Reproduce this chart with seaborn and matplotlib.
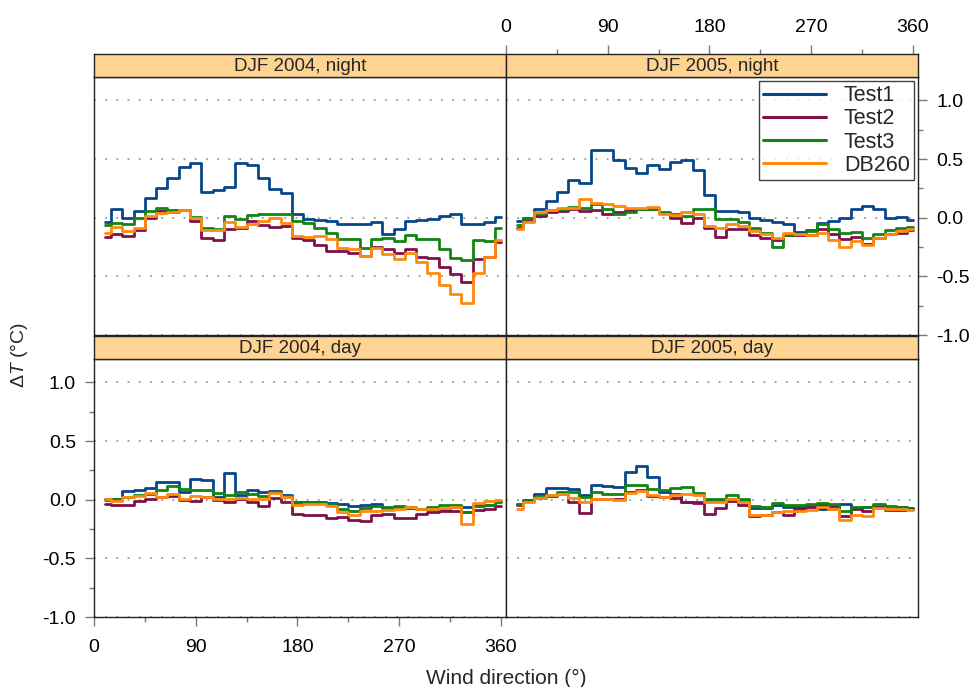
import matplotlib
matplotlib.use("Agg")
import numpy as np
import pandas as pd
import matplotlib.pyplot as plt
from matplotlib.lines import Line2D
import seaborn as sns

# ---- data: temperature difference per 10-degree wind direction sector ----
directions = list(range(10, 361, 10))
series_names = ["Test1", "Test2", "Test3", "DB260"]
series_colors = ["#08468C", "#80104A", "#128412", "#FF8A10"]
panel_titles = ["DJF 2004, night", "DJF 2005, night", "DJF 2004, day", "DJF 2005, day"]

x_ticks = [0, 90, 180, 270, 360]
x_minor = [45, 135, 225, 315]
y_ticks = [-1.0, -0.5, 0.0, 0.5, 1.0]
y_tick_labels = ["-1.0", "-0.5", "0.0", "0.5", "1.0"]
y_minor = [-0.75, -0.25, 0.25, 0.75]

n04_test1 = [-0.034, 0.077, 0.0, 0.057, 0.165, 0.256, 0.335, 0.43, 0.463, 0.22, 0.236, 0.26,
             0.463, 0.45, 0.335, 0.247, 0.207, 0.034, -0.01, -0.017, -0.028, -0.05, -0.057, -0.05,
             -0.037, -0.142, -0.1, -0.028, -0.017, -0.014, 0.014, 0.028, -0.05, -0.05, -0.037, 0.006]
n04_test2 = [-0.165, -0.142, -0.156, -0.102, -0.006, 0.057, 0.048, 0.065, -0.028, -0.17, -0.193, -0.099,
             -0.091, -0.028, -0.065, -0.077, -0.071, -0.17, -0.19, -0.236, -0.284, -0.284, -0.298, -0.327,
             -0.25, -0.27, -0.304, -0.264, -0.335, -0.347, -0.42, -0.483, -0.545, -0.35, -0.335, -0.205]
n04_test3 = [-0.063, -0.048, -0.05, -0.006, 0.057, 0.08, 0.068, 0.068, 0.006, -0.085, -0.1, 0.014,
             -0.014, 0.023, 0.028, 0.028, 0.034, -0.028, -0.045, -0.085, -0.128, -0.185, -0.185, -0.26,
             -0.18, -0.17, -0.2, -0.148, -0.185, -0.185, -0.27, -0.34, -0.358, -0.19, -0.2, -0.09]
n04_db260 = [-0.128, -0.08, -0.114, -0.085, 0.014, 0.043, 0.048, 0.063, -0.006, -0.108, -0.102, -0.034,
             -0.08, -0.057, -0.028, -0.006, -0.043, -0.156, -0.162, -0.156, -0.179, -0.256, -0.27, -0.327,
             -0.26, -0.31, -0.355, -0.298, -0.375, -0.469, -0.574, -0.653, -0.724, -0.469, -0.335, -0.193]

n05_test1 = [-0.028, 0.0, 0.071, 0.142, 0.222, 0.324, 0.295, 0.574, 0.574, 0.494, 0.426, 0.381,
             0.446, 0.418, 0.474, 0.491, 0.406, 0.193, 0.057, 0.057, 0.048, 0.0, -0.023, -0.037,
             -0.057, -0.119, -0.105, -0.048, -0.028, 0.0, 0.077, 0.099, 0.071, 0.0, 0.009, -0.017]
n05_test2 = [-0.085, -0.028, 0.014, 0.051, 0.057, 0.077, 0.057, 0.063, 0.028, 0.051, 0.063, 0.071,
             0.077, 0.037, -0.006, -0.048, -0.006, -0.091, -0.162, -0.1, -0.1, -0.148, -0.17, -0.19,
             -0.151, -0.151, -0.151, -0.1, -0.142, -0.185, -0.165, -0.222, -0.17, -0.136, -0.128, -0.108]
n05_test3 = [-0.063, -0.006, 0.043, 0.063, 0.077, 0.091, 0.085, 0.114, 0.071, 0.034, 0.051, 0.071,
             0.077, 0.051, 0.028, 0.014, 0.071, 0.071, -0.014, -0.014, -0.037, -0.091, -0.128, -0.25,
             -0.151, -0.142, -0.114, -0.057, -0.099, -0.128, -0.119, -0.176, -0.142, -0.108, -0.091, -0.08]
n05_db260 = [-0.099, -0.037, 0.051, 0.063, 0.085, 0.085, 0.156, 0.122, 0.119, 0.099, 0.085, 0.085,
             0.091, 0.034, 0.02, 0.048, 0.034, -0.071, -0.091, -0.057, -0.071, -0.114, -0.136, -0.17,
             -0.128, -0.142, -0.151, -0.134, -0.19, -0.247, -0.199, -0.236, -0.176, -0.136, -0.114, -0.099]

d04_test1 = [0.009, 0.009, 0.071, 0.08, 0.103, 0.151, 0.151, 0.066, 0.18, 0.171, 0.023, 0.231,
             0.043, 0.086, 0.066, 0.071, 0.037, -0.02, -0.02, -0.02, -0.029, -0.04, -0.057, -0.043,
             -0.034, -0.071, -0.063, -0.071, -0.083, -0.077, -0.086, -0.063, -0.063, -0.049, -0.043, -0.014]
d04_test2 = [-0.04, -0.043, -0.043, -0.014, 0.003, 0.023, 0.031, -0.006, -0.011, 0.023, -0.006, -0.02,
             0.009, -0.02, -0.057, 0.014, -0.02, -0.12, -0.126, -0.134, -0.154, -0.149, -0.169, -0.183,
             -0.126, -0.12, -0.154, -0.154, -0.12, -0.106, -0.1, -0.1, -0.106, -0.086, -0.077, -0.057]
d04_test3 = [0.0, 0.003, 0.023, 0.037, 0.051, 0.08, 0.114, 0.089, 0.086, 0.08, 0.06, 0.043,
             0.066, 0.051, 0.031, 0.066, 0.031, -0.026, -0.02, -0.02, -0.034, -0.083, -0.1, -0.071,
             -0.057, -0.063, -0.057, -0.063, -0.077, -0.063, -0.049, -0.043, -0.106, -0.054, -0.049, -0.02]
d04_db260 = [0.003, -0.014, 0.023, 0.031, 0.057, 0.023, 0.046, 0.009, 0.031, 0.023, 0.003, 0.009,
             0.014, 0.003, 0.003, 0.057, 0.023, -0.043, -0.04, -0.04, -0.057, -0.106, -0.126, -0.1,
             -0.097, -0.091, -0.083, -0.063, -0.083, -0.077, -0.071, -0.063, -0.206, -0.026, -0.011, 0.0]

d05_test1 = [-0.034, -0.006, 0.051, 0.103, 0.1, 0.089, 0.037, 0.129, 0.117, 0.109, 0.237, 0.289,
             0.191, 0.066, 0.051, -0.02, -0.02, -0.011, -0.011, 0.009, -0.006, -0.071, -0.071, -0.049,
             -0.063, -0.063, -0.054, -0.083, -0.077, -0.04, -0.069, -0.063, -0.063, -0.086, -0.063, -0.069]
d05_test2 = [-0.049, -0.011, 0.017, 0.029, 0.051, -0.02, -0.111, 0.009, 0.009, 0.009, 0.066, 0.08,
             0.029, 0.023, 0.014, -0.02, -0.029, -0.12, -0.069, -0.011, -0.043, -0.14, -0.129, -0.106,
             -0.126, -0.077, -0.063, -0.049, -0.054, -0.143, -0.083, -0.097, -0.063, -0.083, -0.091, -0.083]
d05_test3 = [-0.034, -0.011, 0.023, 0.043, 0.066, 0.066, 0.023, 0.066, 0.051, 0.051, 0.123, 0.129,
             0.094, 0.08, 0.103, 0.109, 0.06, 0.003, 0.003, 0.037, 0.009, -0.054, -0.063, -0.029,
             -0.049, -0.049, -0.04, -0.026, -0.034, -0.1, -0.063, -0.063, -0.04, -0.054, -0.063, -0.077]
d05_db260 = [-0.077, -0.02, 0.014, 0.037, 0.051, 0.014, -0.02, 0.009, 0.009, -0.006, 0.06, 0.074,
             0.043, 0.023, 0.043, 0.051, 0.037, -0.02, -0.02, 0.003, -0.02, -0.129, -0.134, -0.106,
             -0.1, -0.1, -0.091, -0.063, -0.083, -0.177, -0.134, -0.14, -0.069, -0.077, -0.083, -0.091]

panel_series = {
    "DJF 2004, night": [n04_test1, n04_test2, n04_test3, n04_db260],
    "DJF 2005, night": [n05_test1, n05_test2, n05_test3, n05_db260],
    "DJF 2004, day": [d04_test1, d04_test2, d04_test3, d04_db260],
    "DJF 2005, day": [d05_test1, d05_test2, d05_test3, d05_db260],
}

rows = []
for title, values in panel_series.items():
    for name, vals in zip(series_names, values):
        for d, v in zip(directions, vals):
            rows.append({"panel": title, "series": name, "direction": d, "dT": v})
df = pd.DataFrame(rows)

# ---- styling ----
sns.set_theme(style="white")
plt.rcParams["font.family"] = ["Liberation Sans", "DejaVu Sans"]
plt.rcParams["axes.unicode_minus"] = False
plt.rcParams["mathtext.fontset"] = "custom"
plt.rcParams["mathtext.rm"] = "Liberation Sans"
plt.rcParams["mathtext.it"] = "Liberation Sans:italic"

W, H = 978, 687
fig = plt.figure(figsize=(W / 100, H / 100), dpi=100)
fig.patch.set_facecolor("white")


def fig_rect(x0, y0, x1, y1):
    """pixel box (top-left origin) -> figure fraction rect"""
    return [x0 / W, 1 - y1 / H, (x1 - x0) / W, (y1 - y0) / H]


XLIM = (0, 364.5)
YLIM = (-1.0, 1.2)
xl, xm, xr = 94, 506, 918
layout = {
    "DJF 2004, night": ((xl, 77, xm, 335), (xl, 54, xm, 77)),
    "DJF 2005, night": ((xm, 77, xr, 335), (xm, 54, xr, 77)),
    "DJF 2004, day": ((xl, 359, xm, 617), (xl, 336, xm, 359)),
    "DJF 2005, day": ((xm, 359, xr, 617), (xm, 336, xr, 359)),
}
# which outer sides carry axis annotation (alternating, lattice style)
sides = {
    "DJF 2004, night": dict(left=False, right=False, top=False, bottom=False),
    "DJF 2005, night": dict(left=False, right=True, top=True, bottom=False),
    "DJF 2004, day": dict(left=True, right=False, top=False, bottom=True),
    "DJF 2005, day": dict(left=False, right=False, top=False, bottom=False),
}
edge = "#222222"
tick_col = "#7a7a7a"
strip_col = "#FFD392"


def style_ticks(a, axis, **kw):
    a.tick_params(axis=axis, which="both", direction="out", color=tick_col, width=1,
                  labelsize=14, labelcolor="black", **kw)
    a.tick_params(axis=axis, which="major", length=6.5)
    a.tick_params(axis=axis, which="minor", length=3.6)


for title in panel_titles:
    box, sbox = layout[title]
    ax = fig.add_axes(fig_rect(*box))
    sub = df[df["panel"] == title]
    ax.grid(False)
    for yv in y_ticks:
        ax.axhline(yv, color="#9a9a9a", lw=1.3, ls=(0, (1, 5.2)), zorder=1)
    sns.lineplot(data=sub, x="direction", y="dT", hue="series", hue_order=series_names,
                 palette=series_colors, estimator=None, drawstyle="steps-mid",
                 linewidth=2.0, legend=False, ax=ax, zorder=3)
    ax.set_xlim(*XLIM)
    ax.set_ylim(*YLIM)
    ax.set_xlabel("")
    ax.set_ylabel("")
    ax.set_xticks(x_ticks)
    ax.set_xticks(x_minor, minor=True)
    ax.set_yticks(y_ticks)
    ax.set_yticklabels(y_tick_labels)
    ax.set_yticks(y_minor, minor=True)
    s = sides[title]
    style_ticks(ax, "x", top=False, bottom=s["bottom"], labeltop=False,
                labelbottom=s["bottom"])
    style_ticks(ax, "y", left=s["left"], right=s["right"], labelleft=s["left"],
                labelright=s["right"])
    ax.tick_params(axis="x", which="major", pad=9)
    ax.tick_params(axis="y", which="major", pad=6.5)
    for sp in ax.spines.values():
        sp.set_color(edge)
        sp.set_linewidth(1.0)
    ax.set_facecolor("white")

    # strip header; the top x axis sits on the strip of the upper-right panel
    sax = fig.add_axes(fig_rect(*sbox))
    sax.set_facecolor(strip_col)
    sax.set_xlim(*XLIM)
    sax.set_yticks([])
    sax.grid(False)
    if s["top"]:
        sax.set_xticks(x_ticks)
        sax.set_xticks(x_minor, minor=True)
        style_ticks(sax, "x", top=True, bottom=False, labeltop=True, labelbottom=False)
        sax.tick_params(axis="x", which="major", pad=6.5)
    else:
        sax.set_xticks([])
    for sp in sax.spines.values():
        sp.set_color(edge)
        sp.set_linewidth(1.0)
    sax.text(0.5, 0.45, title, ha="center", va="center", fontsize=13.5,
             transform=sax.transAxes)

# legend inside the upper-right panel
handles = [Line2D([0], [0], color=c, lw=2.2) for c in series_colors]
leg = fig.legend(handles, series_names, loc="upper right",
                 bbox_to_anchor=(914 / W, 1 - 81 / H), fontsize=15.5,
                 frameon=True, fancybox=False, handlelength=2.9,
                 handletextpad=0.85, labelspacing=0.1, borderpad=0.2,
                 borderaxespad=0.0)
leg.get_frame().set_edgecolor("#111111")
leg.get_frame().set_linewidth(1.0)

fig.text(20 / W, 1 - 355 / H, r"$\Delta\mathit{T}$ (°C)", rotation=90,
         ha="center", va="center", fontsize=14)
fig.text(506 / W, 1 - 678 / H, "Wind direction (°)", ha="center", va="center",
         fontsize=15)

fig.savefig("out.png", dpi=100, facecolor="white")
